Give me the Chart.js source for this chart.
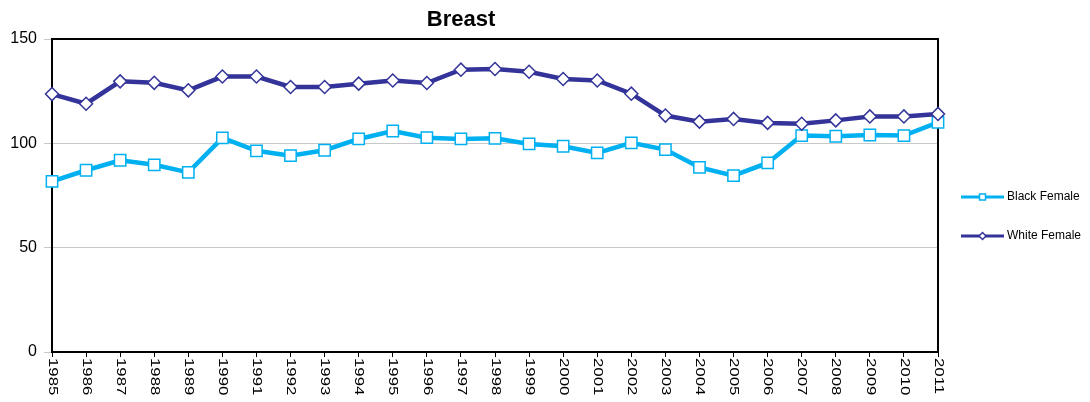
<!DOCTYPE html>
<html>
<head>
<meta charset="utf-8">
<script src="https://cdn.jsdelivr.net/npm/chart.js@4"></script>
<style>
  html, body { margin:0; padding:0; background:#fff; }
  #wrap { width:1090px; height:402px; position:relative; }
</style>
</head>
<body>
<div id="wrap"><canvas id="chart"></canvas></div>
<script>
const years = ['1985','1986','1987','1988','1989','1990','1991','1992','1993','1994','1995','1996','1997','1998',
  '1999','2000','2001','2002','2003','2004','2005','2006','2007','2008','2009','2010','2011'];
const blackFemale = [81.8, 87.1, 91.9, 89.7, 86.1, 102.6, 96.4, 94.1, 96.7, 102.1, 105.9, 102.7, 102.1, 102.4,
  99.7, 98.6, 95.4, 100.2, 97.0, 88.5, 84.5, 90.6, 103.7, 103.4, 104.0, 103.7, 110.0];
const whiteFemale = [123.6, 119.0, 129.7, 129.0, 125.4, 132.0, 132.0, 127.0, 127.0, 128.6, 130.1, 128.9, 135.3, 135.6,
  134.3, 130.8, 130.1, 123.8, 113.3, 110.4, 111.7, 109.8, 109.4, 111.0, 112.9, 112.9, 114.1];
const yMin = 0, yMax = 150, yStep = 50;
const titleText = 'Breast';

const BLUE = '#00B0F0';
const NAVY = '#333399';

// box around plot area, drawn under the lines
const frame = {
  id: 'frame',
  beforeDatasetsDraw(chart){
    const {ctx, chartArea:a} = chart;
    ctx.save();
    ctx.strokeStyle = '#000'; ctx.lineWidth = 2;
    ctx.strokeRect(a.left, a.top, a.right - a.left, a.bottom - a.top);
    ctx.restore();
  }
};

// title, rotated year labels and legend
const extras = {
  id: 'extras',
  afterDraw(chart){
    const ctx = chart.ctx;
    const x = chart.scales.x;
    ctx.save();
    ctx.fillStyle = '#000';
    ctx.font = 'bold 22px Arial, "Liberation Sans", sans-serif';
    ctx.textAlign = 'center'; ctx.textBaseline = 'alphabetic';
    ctx.fillText(titleText, 461, 26);

    ctx.font = '12px Arial, "Liberation Sans", sans-serif';
    ctx.textAlign = 'left'; ctx.textBaseline = 'middle';
    years.forEach((y, i) => {
      const px = x.getPixelForTick(i);
      ctx.save();
      ctx.translate(px, 358);
      ctx.rotate(Math.PI/2);
      ctx.scale(1.4, 1);
      ctx.fillText(y, 0, 0);
      ctx.restore();
    });

    const items = [
      {label:'Black Female', color:BLUE, shape:'rect', y:197},
      {label:'White Female', color:NAVY, shape:'rectRot', y:236}
    ];
    ctx.font = '12px Arial, "Liberation Sans", sans-serif';
    items.forEach(it => {
      ctx.strokeStyle = it.color; ctx.lineWidth = 3;
      ctx.beginPath(); ctx.moveTo(961, it.y); ctx.lineTo(1004, it.y); ctx.stroke();
      ctx.fillStyle = '#fff'; ctx.lineWidth = 1.5;
      ctx.beginPath();
      if(it.shape === 'rect') ctx.rect(979.5, it.y - 3, 6, 6);
      else { ctx.moveTo(979, it.y); ctx.lineTo(982.5, it.y - 3.5); ctx.lineTo(986, it.y); ctx.lineTo(982.5, it.y + 3.5); ctx.closePath(); }
      ctx.fill(); ctx.stroke();
      ctx.fillStyle = '#000';
      ctx.fillText(it.label, 1007, it.y);
    });
    ctx.restore();
  }
};

new Chart(document.getElementById('chart'), {
  type: 'line',
  data: {
    labels: years,
    datasets: [
      { label:'Black Female', data: blackFemale, borderColor: BLUE, backgroundColor: BLUE, borderWidth: 4.5,
        pointStyle:'rect', pointRadius: 8, pointBackgroundColor:'#fff', pointBorderColor: BLUE, pointBorderWidth: 1.5,
        tension: 0, clip: false, order: 1 },
      { label:'White Female', data: whiteFemale, borderColor: NAVY, backgroundColor: NAVY, borderWidth: 4.5,
        pointStyle:'rectRot', pointRadius: 6.5, pointBackgroundColor:'#fff', pointBorderColor: NAVY, pointBorderWidth: 1.5,
        tension: 0, clip: false, order: 0 }
    ]
  },
  options: {
    responsive: true, maintainAspectRatio: false, animation: false, devicePixelRatio: 1,
    layout: { padding: { top: 39, right: 152, bottom: 0, left: 0 } },
    plugins: { legend: { display: false }, title: { display: false }, tooltip: { enabled: false } },
    scales: {
      x: {
        type: 'category', offset: false,
        grid: { drawOnChartArea: false, drawTicks: true, tickLength: 5, color: '#000', lineWidth: 1 },
        border: { display: false },
        ticks: { display: false },
        afterFit: s => { s.height = 50; }
      },
      y: {
        min: yMin, max: yMax,
        ticks: { stepSize: yStep, color: '#000', padding: 7, font: { family: 'Arial, "Liberation Sans", sans-serif', size: 16 } },
        grid: { color: '#c8c8c8', lineWidth: 1, tickLength: 8, drawTicks: true },
        border: { display: false },
        afterFit: s => { s.width = 52; }
      }
    }
  },
  plugins: [frame, extras]
});
</script>
</body>
</html>
